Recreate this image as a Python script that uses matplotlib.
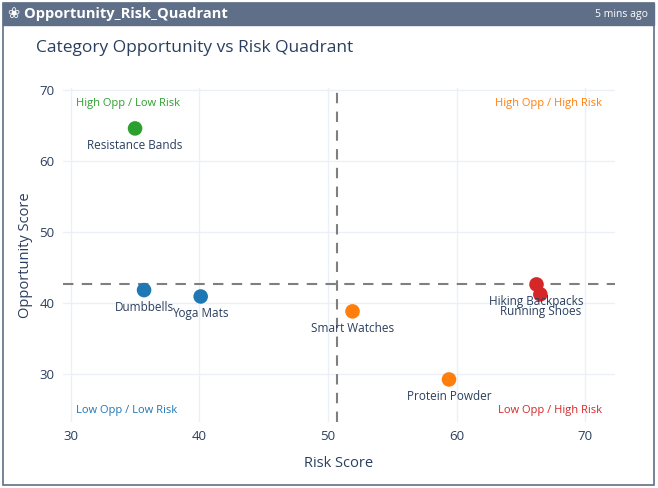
import matplotlib.pyplot as plt
from matplotlib.patches import Rectangle
import numpy as np

plt.rcParams['font.family'] = ['Open Sans', 'DejaVu Sans']

# data
categories = ["Resistance Bands", "Dumbbells", "Yoga Mats", "Smart Watches",
              "Protein Powder", "Hiking Backpacks", "Running Shoes"]
risk = [35.0, 35.7, 40.1, 51.9, 59.4, 66.2, 66.5]
opportunity = [64.6, 41.8, 40.9, 38.8, 29.2, 42.6, 41.2]
colors = ["#2ca02c", "#1f77b4", "#1f77b4", "#ff7f0e", "#ff7f0e", "#d62728", "#d62728"]

quad_labels = ["High Opp / Low Risk", "High Opp / High Risk",
               "Low Opp / Low Risk", "Low Opp / High Risk"]
quad_colors = ["#2ca02c", "#ff7f0e", "#1f77b4", "#d62728"]

W, H = 658, 488
fig = plt.figure(figsize=(W / 100, H / 100), dpi=100)
fig.patch.set_facecolor("white")

# card frame and header
slate = "#5f6f88"
fig.add_artist(Rectangle((3 / W, 1 - 485 / H), 651 / W, 482 / H,
                         transform=fig.transFigure, facecolor="white",
                         edgecolor=slate, linewidth=1.2, zorder=0))
fig.add_artist(Rectangle((3 / W, 1 - 25 / H), 651 / W, 22 / H,
                         transform=fig.transFigure, facecolor=slate,
                         edgecolor=slate, linewidth=1, zorder=1))
fig.text(8 / W, 1 - 14 / H, "\u2740 Opportunity_Risk_Quadrant", color="white",
         fontsize=10.5, fontweight="bold", va="center", ha="left",
         family=["Open Sans", "DejaVu Sans"])
fig.text(648 / W, 1 - 14 / H, "5 mins ago", color="white", fontsize=7.5,
         va="center", ha="right")

fig.text(36 / W, 1 - 48 / H, "Category Opportunity vs Risk Quadrant",
         color="#2a3f5f", fontsize=12.5, va="center", ha="left")

ax = fig.add_axes([63 / W, 1 - 422 / H, (615 - 63) / W, (422 - 88) / H])
ax.set_xlim(29.4, 72.3)
ax.set_ylim(23.2, 70.3)
ax.set_xticks([30, 40, 50, 60, 70])
ax.set_yticks([30, 40, 50, 60, 70])
ax.grid(True, color="#ebf0f8", linewidth=1)
ax.set_axisbelow(True)
for s in ax.spines.values():
    s.set_visible(False)
ax.tick_params(length=0, colors="#2a3f5f", labelsize=9.5, pad=6)

x_mean = np.mean(risk)
y_mean = np.mean(opportunity)
ax.axvline(x_mean, color="#7f7f7f", linestyle=(0, (5, 4)), linewidth=1.5, zorder=1)
ax.axhline(y_mean, color="#7f7f7f", linestyle=(0, (5, 4)), linewidth=1.5, zorder=1)

ax.scatter(risk, opportunity, s=110, c=colors, zorder=3, edgecolors="none")
for name, x, y in zip(categories, risk, opportunity):
    ax.annotate(name, (x, y), xytext=(0, -7.5), textcoords="offset points",
                ha="center", va="top", fontsize=8.5, color="#2a3f5f", zorder=4)

quad_pos = [(0.024, 0.955, "left"), (0.976, 0.955, "right"),
            (0.024, 0.035, "left"), (0.976, 0.035, "right")]
for (qx, qy, ha), lab, col in zip(quad_pos, quad_labels, quad_colors):
    ax.text(qx, qy, lab, transform=ax.transAxes, ha=ha, va="center",
            fontsize=8, color=col)

ax.set_xlabel("Risk Score", color="#2a3f5f", fontsize=10.5, labelpad=9)
ax.set_ylabel("Opportunity Score", color="#2a3f5f", fontsize=10.5, labelpad=5)

fig.savefig("out.png", dpi=100)
